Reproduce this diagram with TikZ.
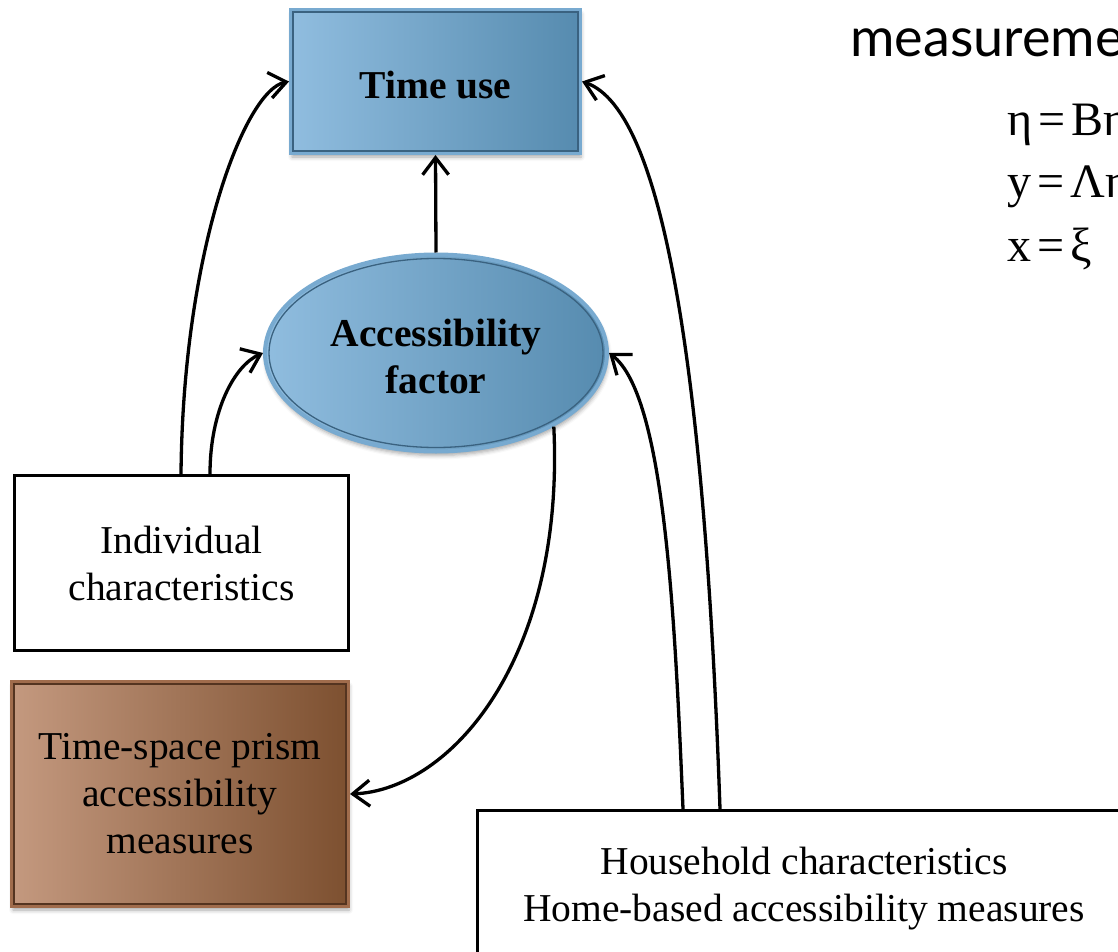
\documentclass[tikz,border=0pt]{standalone}
\usepackage{fontspec}
\setmainfont{Liberation Serif}
\newfontfamily\labelsans{Lato}
\usetikzlibrary{arrows.meta,shapes.geometric,shadows.blur,calc}

\definecolor{blueL}{RGB}{144,189,223}
\definecolor{blueD}{RGB}{86,139,175}
\definecolor{blueRim}{RGB}{120,170,208}
\definecolor{blueEdge}{RGB}{58,98,128}
\definecolor{brownL}{RGB}{196,153,127}
\definecolor{brownD}{RGB}{125,80,48}
\definecolor{brownRim}{RGB}{160,108,76}
\definecolor{brownEdge}{RGB}{84,52,32}

\begin{document}
\begin{tikzpicture}[x=1pt,y=-1pt,
  txt/.style={font=\fontsize{39.5}{47}\selectfont, align=center},
  softshadow/.style={blur shadow={shadow xshift=1pt, shadow yshift=-4pt,
      shadow blur radius=4pt, shadow opacity=35}},
  bluebox/.style={txt, font=\fontsize{39.5}{47}\selectfont\bfseries,
      rectangle, inner sep=0pt, minimum width=289pt, minimum height=143pt,
      left color=blueL, right color=blueD, draw=blueRim, line width=4pt, softshadow},
  blueoval/.style={txt, font=\fontsize{39.5}{47}\selectfont\bfseries,
      ellipse, inner sep=0pt, minimum width=342pt, minimum height=197pt,
      left color=blueL, right color=blueD, draw=blueRim, line width=4pt, softshadow},
  brownbox/.style={txt, rectangle, inner sep=0pt, minimum width=336pt, minimum height=224pt,
      left color=brownL, right color=brownD, draw=brownRim, line width=4pt, softshadow},
  plainbox/.style={txt, rectangle, inner sep=0pt, draw=black, fill=white, line width=3pt},
  eqtext/.style={anchor=base west, inner sep=0pt, font=\fontsize{48}{62}\selectfont},
  conn/.style={line width=3.3pt, -{Straight Barb[length=17pt,width=26pt]}},
]
\path[use as bounding box] (0,0) rectangle (1118,952);
\clip (0,0) rectangle (1118,952);

% model nodes
\node[bluebox] (time) at (435.5,81.5) {\raisebox{-4pt}[\height][\depth]{Time use}};
\draw[blueEdge, line width=1.3pt] ([shift={(4,4)}]time.north west) rectangle ([shift={(-4,-4)}]time.south east);

\node[blueoval] (acc) at (436,353) {\raisebox{-3pt}[\height][\depth]{Accessibility}\\\raisebox{-3pt}[\height][\depth]{factor}};
\draw[blueEdge, line width=1.3pt] (acc.center) ellipse [x radius=167pt, y radius=94.5pt];

\node[plainbox, minimum width=334pt, minimum height=175pt] (indiv) at (181.5,563) {Individual\\characteristics};

\node[brownbox] (prism) at (180,794) {Time-space prism\\accessibility\\measures};
\draw[brownEdge, line width=1.3pt] ([shift={(4,4)}]prism.north west) rectangle ([shift={(-4,-4)}]prism.south east);

\node[plainbox, minimum width=654pt, minimum height=156pt] (house) at (804,888.5)
  {Household characteristics\\Home-based accessibility measures};

% measurement equations
\node[anchor=base west, inner sep=0pt, font=\labelsans\fontsize{54}{64}\selectfont] (mlabel) at (850,57) {measureme};
\node[eqtext] (eq1) at (1007,136) {η\kern6pt=\kern6ptBη};
\node[eqtext] (eq2) at (1007,197) {y\kern6pt=\kern6ptΛη};
\node[eqtext] (eq3) at (1007,261) {x\kern6pt=\kern6ptξ};

% structural paths
\draw[conn] (acc.north) -- (time.south);
\draw[conn] ([xshift=-0.5pt]indiv.north) .. controls (183,250) and (245,90) .. (time.west);
\draw[conn] ([xshift=28.5pt]indiv.north) .. controls (210,410) and (235,365) .. (acc.west);
\draw[conn] (acc.-32) .. controls (565,660) and (450,790) .. (prism.east);
\draw[conn] ([xshift=-121pt]house.north) .. controls (675,620) and (665,395) .. (acc.east);
\draw[conn] ([xshift=-84pt]house.north) .. controls (705,380) and (665,110) .. (time.east);
\end{tikzpicture}
\end{document}
